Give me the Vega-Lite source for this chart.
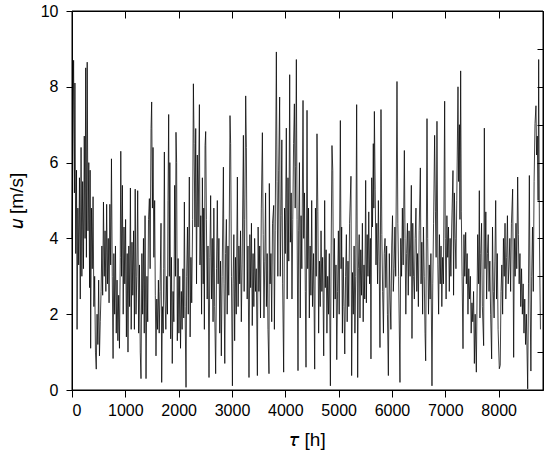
{
"$schema": "https://vega.github.io/schema/vega-lite/v6.json",
"width": 471, "height": 379,
"autosize": {"type": "none"},
"padding": {"left": 72, "top": 11, "right": 7, "bottom": 67},
"background": "white",
"data": {"values": [
{"t":0,"u":4.0},{"t":15,"u":6.5},{"t":30,"u":8.7},{"t":45,"u":5.2},{"t":55,"u":8.1},{"t":70,"u":3.6},{"t":85,"u":5.8},{"t":95,"u":1.6},{"t":110,"u":4.8},{"t":125,"u":3.3},{"t":140,"u":5.6},{"t":155,"u":2.4},{"t":170,"u":6.4},{"t":185,"u":3.0},{"t":200,"u":5.5},{"t":215,"u":3.2},{"t":230,"u":6.7},{"t":245,"u":4.0},{"t":257,"u":8.5},{"t":270,"u":3.5},{"t":285,"u":8.65},{"t":300,"u":4.2},{"t":315,"u":6.0},{"t":330,"u":2.7},{"t":340,"u":5.8},{"t":350,"u":1.1},{"t":365,"u":4.8},{"t":380,"u":3.2},{"t":395,"u":5.1},{"t":410,"u":2.2},{"t":425,"u":3.0},{"t":440,"u":1.0},{"t":455,"u":0.55},{"t":470,"u":2.0},{"t":485,"u":1.2},{"t":500,"u":2.9},{"t":515,"u":0.9},{"t":530,"u":1.8},{"t":545,"u":2.6},{"t":560,"u":3.8},{"t":575,"u":2.5},{"t":590,"u":4.96},{"t":605,"u":3.0},{"t":620,"u":4.2},{"t":635,"u":2.6},{"t":650,"u":4.9},{"t":665,"u":2.8},{"t":680,"u":4.0},{"t":695,"u":2.3},{"t":710,"u":4.9},{"t":725,"u":3.3},{"t":740,"u":6.1},{"t":755,"u":3.0},{"t":770,"u":0.83},{"t":785,"u":3.6},{"t":800,"u":2.0},{"t":815,"u":3.8},{"t":830,"u":1.5},{"t":845,"u":2.9},{"t":860,"u":1.3},{"t":875,"u":2.5},{"t":890,"u":1.1},{"t":905,"u":3.5},{"t":915,"u":6.3},{"t":930,"u":3.0},{"t":945,"u":5.4},{"t":960,"u":2.0},{"t":975,"u":4.3},{"t":990,"u":2.8},{"t":1005,"u":4.5},{"t":1020,"u":1.4},{"t":1035,"u":3.6},{"t":1050,"u":1.0},{"t":1065,"u":3.8},{"t":1080,"u":2.2},{"t":1095,"u":5.33},{"t":1110,"u":1.6},{"t":1125,"u":3.9},{"t":1140,"u":2.5},{"t":1155,"u":4.2},{"t":1170,"u":1.6},{"t":1185,"u":5.3},{"t":1200,"u":2.0},{"t":1215,"u":3.0},{"t":1232,"u":5.26},{"t":1250,"u":1.5},{"t":1265,"u":3.3},{"t":1280,"u":1.0},{"t":1294,"u":0.3},{"t":1310,"u":3.6},{"t":1325,"u":2.0},{"t":1340,"u":4.0},{"t":1355,"u":1.5},{"t":1370,"u":4.6},{"t":1388,"u":0.3},{"t":1405,"u":3.0},{"t":1420,"u":1.8},{"t":1435,"u":4.5},{"t":1451,"u":5.05},{"t":1465,"u":3.2},{"t":1482,"u":6.9},{"t":1494,"u":7.6},{"t":1508,"u":4.8},{"t":1520,"u":6.4},{"t":1535,"u":3.5},{"t":1550,"u":5.0},{"t":1562,"u":2.5},{"t":1575,"u":0.9},{"t":1590,"u":2.4},{"t":1605,"u":1.6},{"t":1620,"u":2.9},{"t":1635,"u":1.5},{"t":1650,"u":2.6},{"t":1669,"u":4.4},{"t":1682,"u":0.2},{"t":1695,"u":2.2},{"t":1710,"u":1.5},{"t":1720,"u":3.2},{"t":1732,"u":6.28},{"t":1745,"u":2.4},{"t":1760,"u":1.6},{"t":1775,"u":3.0},{"t":1790,"u":2.0},{"t":1800,"u":5.0},{"t":1813,"u":7.27},{"t":1825,"u":3.0},{"t":1835,"u":6.0},{"t":1850,"u":1.35},{"t":1865,"u":3.5},{"t":1880,"u":0.7},{"t":1895,"u":2.6},{"t":1910,"u":1.8},{"t":1925,"u":5.4},{"t":1940,"u":3.0},{"t":1950,"u":6.8},{"t":1962,"u":6.0},{"t":1975,"u":1.3},{"t":1990,"u":3.47},{"t":2005,"u":1.5},{"t":2020,"u":3.0},{"t":2035,"u":1.1},{"t":2050,"u":2.6},{"t":2065,"u":1.6},{"t":2080,"u":3.2},{"t":2095,"u":1.9},{"t":2107,"u":4.96},{"t":2120,"u":2.2},{"t":2138,"u":0.07},{"t":2150,"u":3.0},{"t":2165,"u":4.3},{"t":2180,"u":2.0},{"t":2200,"u":5.62},{"t":2215,"u":1.4},{"t":2230,"u":3.5},{"t":2245,"u":2.3},{"t":2262,"u":4.5},{"t":2276,"u":8.08},{"t":2290,"u":6.5},{"t":2305,"u":4.3},{"t":2320,"u":6.9},{"t":2335,"u":2.8},{"t":2350,"u":6.2},{"t":2365,"u":4.3},{"t":2389,"u":7.53},{"t":2400,"u":3.3},{"t":2415,"u":4.6},{"t":2430,"u":2.0},{"t":2445,"u":5.6},{"t":2460,"u":2.8},{"t":2470,"u":4.8},{"t":2482,"u":1.6},{"t":2495,"u":6.45},{"t":2507,"u":6.82},{"t":2520,"u":4.5},{"t":2535,"u":2.4},{"t":2550,"u":3.8},{"t":2569,"u":0.33},{"t":2585,"u":3.5},{"t":2600,"u":5.13},{"t":2615,"u":2.4},{"t":2630,"u":4.0},{"t":2645,"u":1.8},{"t":2660,"u":4.8},{"t":2675,"u":2.2},{"t":2694,"u":0.43},{"t":2710,"u":3.2},{"t":2725,"u":5.0},{"t":2740,"u":2.8},{"t":2755,"u":4.0},{"t":2770,"u":1.5},{"t":2785,"u":3.4},{"t":2800,"u":0.9},{"t":2815,"u":3.0},{"t":2839,"u":5.88},{"t":2850,"u":2.8},{"t":2865,"u":0.7},{"t":2880,"u":3.6},{"t":2895,"u":4.5},{"t":2910,"u":2.0},{"t":2925,"u":3.8},{"t":2940,"u":2.5},{"t":2963,"u":7.24},{"t":2975,"u":6.5},{"t":2990,"u":3.0},{"t":3008,"u":0.11},{"t":3020,"u":2.8},{"t":3035,"u":4.1},{"t":3050,"u":1.3},{"t":3065,"u":3.5},{"t":3080,"u":2.0},{"t":3101,"u":5.62},{"t":3115,"u":2.2},{"t":3130,"u":3.8},{"t":3145,"u":2.8},{"t":3160,"u":4.2},{"t":3175,"u":1.8},{"t":3190,"u":3.3},{"t":3214,"u":6.72},{"t":3228,"u":2.6},{"t":3240,"u":4.5},{"t":3257,"u":7.76},{"t":3270,"u":6.4},{"t":3285,"u":2.4},{"t":3300,"u":3.8},{"t":3319,"u":0.33},{"t":3335,"u":4.1},{"t":3350,"u":2.7},{"t":3365,"u":4.4},{"t":3380,"u":1.7},{"t":3395,"u":3.6},{"t":3410,"u":2.2},{"t":3425,"u":4.0},{"t":3440,"u":2.6},{"t":3455,"u":3.2},{"t":3476,"u":0.38},{"t":3490,"u":4.3},{"t":3505,"u":2.6},{"t":3520,"u":3.8},{"t":3535,"u":1.9},{"t":3550,"u":4.8},{"t":3570,"u":6.79},{"t":3585,"u":4.1},{"t":3600,"u":1.9},{"t":3615,"u":3.4},{"t":3630,"u":5.2},{"t":3645,"u":2.2},{"t":3660,"u":3.6},{"t":3675,"u":1.6},{"t":3694,"u":0.43},{"t":3700,"u":5.45},{"t":3715,"u":2.8},{"t":3730,"u":3.6},{"t":3745,"u":1.8},{"t":3760,"u":4.4},{"t":3782,"u":4.87},{"t":3795,"u":1.6},{"t":3810,"u":4.2},{"t":3832,"u":8.92},{"t":3845,"u":5.5},{"t":3860,"u":3.0},{"t":3875,"u":5.8},{"t":3894,"u":7.73},{"t":3905,"u":3.0},{"t":3920,"u":4.6},{"t":3935,"u":6.6},{"t":3950,"u":2.8},{"t":3969,"u":0.47},{"t":3985,"u":4.8},{"t":4000,"u":3.6},{"t":4019,"u":6.91},{"t":4035,"u":2.4},{"t":4050,"u":5.6},{"t":4065,"u":3.4},{"t":4082,"u":8.32},{"t":4095,"u":3.9},{"t":4110,"u":5.2},{"t":4125,"u":2.4},{"t":4140,"u":4.5},{"t":4155,"u":6.5},{"t":4170,"u":7.55},{"t":4185,"u":4.8},{"t":4195,"u":5.9},{"t":4207,"u":8.72},{"t":4220,"u":4.5},{"t":4238,"u":0.51},{"t":4250,"u":4.2},{"t":4265,"u":6.0},{"t":4280,"u":1.9},{"t":4295,"u":4.6},{"t":4310,"u":3.2},{"t":4332,"u":7.64},{"t":4345,"u":4.0},{"t":4360,"u":5.2},{"t":4375,"u":2.6},{"t":4388,"u":0.6},{"t":4407,"u":7.38},{"t":4420,"u":3.2},{"t":4435,"u":4.8},{"t":4450,"u":1.9},{"t":4465,"u":3.8},{"t":4480,"u":2.5},{"t":4495,"u":5.0},{"t":4510,"u":2.2},{"t":4530,"u":3.6},{"t":4551,"u":0.55},{"t":4565,"u":4.8},{"t":4580,"u":3.0},{"t":4594,"u":6.76},{"t":4610,"u":4.7},{"t":4625,"u":1.5},{"t":4640,"u":3.4},{"t":4655,"u":2.2},{"t":4670,"u":4.2},{"t":4685,"u":2.6},{"t":4700,"u":3.5},{"t":4720,"u":0.9},{"t":4738,"u":5.0},{"t":4750,"u":2.7},{"t":4765,"u":3.7},{"t":4780,"u":1.5},{"t":4795,"u":3.0},{"t":4810,"u":2.0},{"t":4825,"u":3.6},{"t":4845,"u":0.11},{"t":4860,"u":3.8},{"t":4875,"u":6.45},{"t":4890,"u":5.8},{"t":4905,"u":1.9},{"t":4920,"u":4.0},{"t":4935,"u":2.4},{"t":4950,"u":3.3},{"t":4965,"u":0.8},{"t":4980,"u":2.6},{"t":4995,"u":4.2},{"t":5010,"u":2.0},{"t":5032,"u":7.11},{"t":5045,"u":3.2},{"t":5057,"u":4.3},{"t":5070,"u":1.5},{"t":5085,"u":3.5},{"t":5100,"u":2.2},{"t":5115,"u":0.95},{"t":5130,"u":3.0},{"t":5145,"u":4.1},{"t":5160,"u":1.8},{"t":5175,"u":3.4},{"t":5190,"u":2.2},{"t":5205,"u":4.4},{"t":5231,"u":5.64},{"t":5244,"u":0.38},{"t":5260,"u":3.1},{"t":5275,"u":2.0},{"t":5290,"u":3.8},{"t":5305,"u":1.5},{"t":5320,"u":3.0},{"t":5338,"u":7.53},{"t":5357,"u":0.33},{"t":5370,"u":3.2},{"t":5385,"u":4.1},{"t":5400,"u":1.9},{"t":5415,"u":3.7},{"t":5430,"u":2.5},{"t":5445,"u":4.4},{"t":5460,"u":1.8},{"t":5475,"u":3.3},{"t":5490,"u":2.4},{"t":5507,"u":5.53},{"t":5520,"u":2.3},{"t":5535,"u":4.1},{"t":5550,"u":3.0},{"t":5565,"u":4.7},{"t":5580,"u":2.8},{"t":5595,"u":4.0},{"t":5606,"u":0.82},{"t":5620,"u":5.6},{"t":5635,"u":4.3},{"t":5650,"u":6.5},{"t":5660,"u":4.8},{"t":5670,"u":7.35},{"t":5685,"u":5.3},{"t":5700,"u":3.3},{"t":5715,"u":4.4},{"t":5730,"u":2.8},{"t":5745,"u":5.0},{"t":5760,"u":3.4},{"t":5775,"u":1.12},{"t":5794,"u":7.4},{"t":5810,"u":4.1},{"t":5825,"u":2.6},{"t":5840,"u":1.5},{"t":5855,"u":3.6},{"t":5870,"u":4.0},{"t":5885,"u":2.7},{"t":5900,"u":3.8},{"t":5915,"u":2.0},{"t":5932,"u":0.38},{"t":5950,"u":3.6},{"t":5965,"u":2.4},{"t":5980,"u":1.6},{"t":5995,"u":3.8},{"t":6010,"u":4.6},{"t":6025,"u":2.6},{"t":6040,"u":3.2},{"t":6055,"u":4.3},{"t":6070,"u":3.0},{"t":6094,"u":8.14},{"t":6110,"u":4.4},{"t":6125,"u":3.0},{"t":6150,"u":0.2},{"t":6165,"u":4.0},{"t":6180,"u":3.0},{"t":6195,"u":4.8},{"t":6210,"u":3.3},{"t":6232,"u":6.32},{"t":6245,"u":4.0},{"t":6260,"u":2.0},{"t":6275,"u":3.6},{"t":6290,"u":4.4},{"t":6305,"u":2.5},{"t":6320,"u":4.2},{"t":6340,"u":3.0},{"t":6363,"u":5.4},{"t":6375,"u":1.36},{"t":6390,"u":4.4},{"t":6405,"u":3.0},{"t":6420,"u":2.4},{"t":6435,"u":4.0},{"t":6450,"u":4.8},{"t":6465,"u":2.6},{"t":6480,"u":3.6},{"t":6495,"u":2.2},{"t":6510,"u":4.2},{"t":6532,"u":5.86},{"t":6545,"u":2.8},{"t":6560,"u":3.9},{"t":6575,"u":2.0},{"t":6590,"u":4.3},{"t":6605,"u":3.0},{"t":6620,"u":1.5},{"t":6632,"u":0.77},{"t":6657,"u":7.16},{"t":6670,"u":4.0},{"t":6685,"u":2.0},{"t":6700,"u":3.3},{"t":6715,"u":2.4},{"t":6730,"u":3.6},{"t":6750,"u":0.11},{"t":6765,"u":2.8},{"t":6780,"u":4.4},{"t":6800,"u":6.72},{"t":6815,"u":4.7},{"t":6828,"u":3.5},{"t":6844,"u":7.09},{"t":6860,"u":3.3},{"t":6875,"u":2.0},{"t":6890,"u":4.1},{"t":6905,"u":2.8},{"t":6920,"u":3.8},{"t":6935,"u":2.2},{"t":6950,"u":3.5},{"t":6965,"u":2.8},{"t":6988,"u":7.62},{"t":7000,"u":4.0},{"t":7015,"u":2.4},{"t":7030,"u":4.6},{"t":7045,"u":3.5},{"t":7060,"u":4.3},{"t":7075,"u":2.6},{"t":7090,"u":4.0},{"t":7105,"u":3.0},{"t":7120,"u":4.3},{"t":7144,"u":5.79},{"t":7155,"u":2.5},{"t":7170,"u":5.2},{"t":7185,"u":4.0},{"t":7200,"u":3.2},{"t":7215,"u":5.0},{"t":7238,"u":8.0},{"t":7250,"u":5.5},{"t":7265,"u":7.0},{"t":7275,"u":4.5},{"t":7288,"u":8.42},{"t":7300,"u":4.7},{"t":7315,"u":3.0},{"t":7332,"u":1.09},{"t":7350,"u":4.1},{"t":7365,"u":3.0},{"t":7382,"u":4.16},{"t":7395,"u":2.8},{"t":7410,"u":3.6},{"t":7425,"u":2.0},{"t":7440,"u":3.2},{"t":7455,"u":2.4},{"t":7470,"u":3.0},{"t":7485,"u":1.5},{"t":7500,"u":2.3},{"t":7515,"u":1.8},{"t":7530,"u":2.6},{"t":7545,"u":0.7},{"t":7560,"u":2.0},{"t":7582,"u":0.47},{"t":7595,"u":2.4},{"t":7607,"u":4.1},{"t":7625,"u":2.8},{"t":7638,"u":5.26},{"t":7650,"u":1.9},{"t":7665,"u":3.6},{"t":7680,"u":4.4},{"t":7695,"u":2.2},{"t":7719,"u":1.17},{"t":7732,"u":6.91},{"t":7745,"u":3.2},{"t":7760,"u":4.7},{"t":7775,"u":2.4},{"t":7790,"u":3.6},{"t":7805,"u":4.1},{"t":7820,"u":2.6},{"t":7835,"u":3.4},{"t":7850,"u":2.0},{"t":7869,"u":0.82},{"t":7885,"u":4.3},{"t":7900,"u":2.6},{"t":7915,"u":1.9},{"t":7930,"u":3.4},{"t":7945,"u":5.0},{"t":7960,"u":2.4},{"t":7975,"u":3.6},{"t":7990,"u":1.6},{"t":8013,"u":0.56},{"t":8030,"u":0.65},{"t":8045,"u":2.6},{"t":8060,"u":3.3},{"t":8075,"u":2.0},{"t":8090,"u":4.0},{"t":8105,"u":3.0},{"t":8120,"u":4.4},{"t":8135,"u":2.4},{"t":8150,"u":3.5},{"t":8165,"u":4.6},{"t":8180,"u":2.8},{"t":8195,"u":3.3},{"t":8210,"u":4.0},{"t":8225,"u":2.6},{"t":8240,"u":4.4},{"t":8263,"u":5.3},{"t":8282,"u":0.86},{"t":8295,"u":4.0},{"t":8310,"u":3.0},{"t":8325,"u":4.4},{"t":8340,"u":3.2},{"t":8357,"u":5.62},{"t":8370,"u":4.1},{"t":8385,"u":2.8},{"t":8400,"u":3.6},{"t":8415,"u":2.2},{"t":8430,"u":3.2},{"t":8445,"u":2.0},{"t":8460,"u":2.8},{"t":8475,"u":1.5},{"t":8490,"u":2.4},{"t":8505,"u":1.2},{"t":8520,"u":2.0},{"t":8545,"u":0.03},{"t":8560,"u":2.8},{"t":8576,"u":5.66},{"t":8590,"u":2.4},{"t":8605,"u":0.5},{"t":8620,"u":3.0},{"t":8635,"u":4.3},{"t":8650,"u":2.6},{"t":8665,"u":5.5},{"t":8682,"u":7.03},{"t":8700,"u":7.5},{"t":8712,"u":6.2},{"t":8725,"u":6.7},{"t":8740,"u":5.0},{"t":8751,"u":8.72},{"t":8765,"u":4.0},{"t":8784,"u":1.6}
]},
"layer": [
{"mark": {"type": "line", "color": "black", "strokeWidth": 0.75},
 "encoding": {
  "x": {"field": "t", "type": "quantitative", "scale": {"domain": [0, 8832], "nice": false, "zero": false},
        "axis": {"grid": false, "values": [0,1000,2000,3000,4000,5000,6000,7000,8000], "format": "d",
                 "tickSize": 7, "labelPadding": 5, "labelFont": "Liberation Sans", "labelFontSize": 16, "labelColor": "black",
                 "domainColor": "black", "tickColor": "black",
                 "title": "𝜏 [h]", "titleFont": "Liberation Sans", "titleFontSize": 19, "titleFontWeight": "normal", "titleColor": "black", "titlePadding": 12}},
  "y": {"field": "u", "type": "quantitative", "scale": {"domain": [0, 10], "nice": false},
        "axis": {"grid": false, "values": [0,2,4,6,8,10], "format": "d",
                 "tickSize": 6, "labelPadding": 8, "labelFont": "Liberation Sans", "labelFontSize": 16, "labelColor": "black",
                 "domainColor": "black", "tickColor": "black",
                 "title": "𝑢 [m/s]", "titleFont": "Liberation Sans", "titleFontSize": 19, "titleFontWeight": "normal", "titleColor": "black", "titlePadding": 14}}
 }},
{"data": {"values": [{"a": 0}]},
 "mark": {"type": "rect", "fill": null, "fillOpacity": 0, "stroke": "black", "strokeWidth": 1},
 "encoding": {
  "x": {"datum": 0, "type": "quantitative", "axis": {"orient": "top", "grid": false, "labels": false, "tickSize": -7, "domainColor": "black", "tickColor": "black"}},
  "x2": {"datum": 8832},
  "y": {"datum": 0, "type": "quantitative", "axis": {"orient": "right", "grid": false, "labels": false, "tickSize": -6, "domainColor": "black", "tickColor": "black"}},
  "y2": {"datum": 10}
 }}
],
"resolve": {"axis": {"x": "independent", "y": "independent"}}
}
